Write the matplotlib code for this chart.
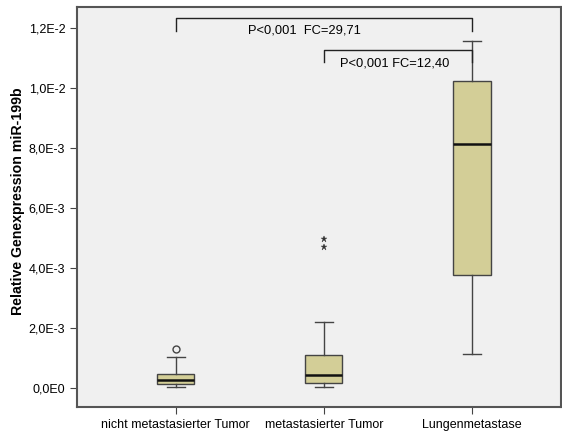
import matplotlib
matplotlib.use("Agg")
import matplotlib.pyplot as plt

plt.rcParams['font.family'] = ['Liberation Sans', 'DejaVu Sans']

groups = ["nicht metastasierter Tumor", "metastasierter Tumor", "Lungenmetastase"]
whis_lo = [0.00003, 0.00003, 0.00113]
q1 = [0.00013, 0.00017, 0.00377]
median = [0.00027, 0.00043, 0.00813]
q3 = [0.00047, 0.00110, 0.01023]
whis_hi = [0.00103, 0.00220, 0.01157]
outliers_circle = [0.00130]          # group 1
outliers_star = [0.00497, 0.00470]   # group 2

yticks = [0.0, 0.002, 0.004, 0.006, 0.008, 0.010, 0.012]
ytick_labels = ["0,0E0", "2,0E-3", "4,0E-3", "6,0E-3", "8,0E-3", "1,0E-2", "1,2E-2"]

fig = plt.figure(figsize=(5.62, 4.32), dpi=100)
ax = fig.add_axes([0.137, 0.058, 0.861, 0.926])
ax.set_facecolor("#F0F0F0")

stats = []
for i in range(3):
    stats.append(dict(med=median[i], q1=q1[i], q3=q3[i],
                      whislo=whis_lo[i], whishi=whis_hi[i], fliers=[]))

edge = "#444444"
ax.bxp(stats, positions=[1, 2, 3], widths=0.25, showfliers=False,
       patch_artist=True, capwidths=0.12,
       boxprops=dict(facecolor="#D3CE97", edgecolor=edge, linewidth=1.0),
       medianprops=dict(color="#111111", linewidth=1.8),
       whiskerprops=dict(color=edge, linewidth=1.0),
       capprops=dict(color=edge, linewidth=1.0))

ax.plot([1] * len(outliers_circle), outliers_circle, "o", ms=5,
        mfc="none", mec="#444444", mew=1.0)
ax.plot([2] * len(outliers_star), outliers_star, "*", ms=5,
        color="#333333", mew=0.3)

# significance brackets
b1_y, b1_d = 0.01233, 0.0119
ax.plot([1, 1, 3, 3], [b1_d, b1_y, b1_y, b1_d], color="#222222", lw=1.0)
ax.text(1.87, 0.01190, "P<0,001  FC=29,71", ha="center", va="center", fontsize=9.3)
b2_y, b2_d = 0.01127, 0.01087
ax.plot([2, 2, 3, 3], [b2_d, b2_y, b2_y, b2_d], color="#222222", lw=1.0)
ax.text(2.48, 0.01082, "P<0,001 FC=12,40", ha="center", va="center", fontsize=9.3)

ax.set_xlim(0.333, 3.6)
ax.set_ylim(-0.00063, 0.0127)
ax.set_yticks(yticks)
ax.set_yticklabels(ytick_labels, fontsize=9)
ax.set_xticks([1, 2, 3])
ax.set_xticklabels(groups, fontsize=9)
ax.tick_params(direction="out", length=5, color="#444444")
for s in ax.spines.values():
    s.set_color("#555555")
    s.set_linewidth(1.5)

ax.set_ylabel("Relative Genexpression miR-199b", fontsize=10.2,
              fontweight="bold")
ax.yaxis.set_label_coords(-0.108, 0.515)

fig.savefig("out.png", dpi=100)
